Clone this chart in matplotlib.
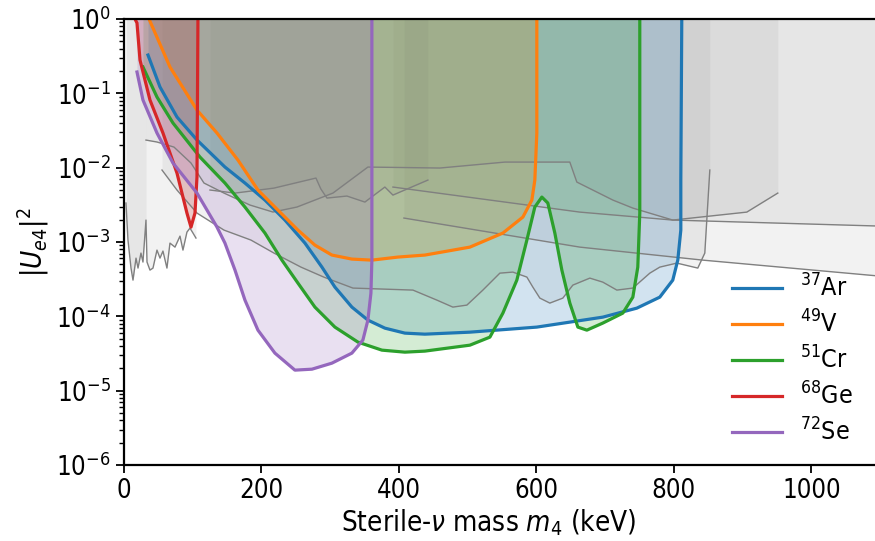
import numpy as np
import matplotlib
matplotlib.use("Agg")
import matplotlib.pyplot as plt

plt.rcParams['font.family'] = ['DejaVu Sans']
plt.rcParams['font.stretch'] = 'condensed'
plt.rcParams['mathtext.fontset'] = 'dejavusans'

# isotope sensitivity contours: mass (keV), log10 |U_e4|^2
ar_m = [34.9, 52.4, 77.1, 106.2, 146.9, 176.0, 205.1, 234.2, 263.3, 288.0, 306.9, 331.6, 354.9,
        379.6, 408.7, 437.8, 503.3, 600.7, 696.7, 746.2, 779.6, 798.5, 805.8, 810.2, 810.2, 811.6]
ar_lu = [-0.485, -0.915, -1.319, -1.628, -1.992, -2.207, -2.436, -2.705, -3.015, -3.338, -3.607, -3.876, -4.051,
         -4.159, -4.226, -4.240, -4.213, -4.145, -4.011, -3.890, -3.742, -3.513, -3.244, -2.840, -2.167, 0.0]

v_m = [36.4, 66.9, 106.2, 135.3, 165.8, 194.9, 224.0, 253.1, 277.8, 302.5, 331.6, 360.7, 398.5,
       437.8, 503.3, 551.3, 580.4, 593.5, 597.8, 600.7, 600.7]
v_lu = [0.0, -0.646, -1.225, -1.534, -1.898, -2.301, -2.571, -2.840, -3.042, -3.176, -3.230, -3.244, -3.203,
        -3.176, -3.069, -2.880, -2.665, -2.436, -2.167, -1.534, 0.0]

cr_m = [27.6, 48.0, 71.3, 110.5, 146.9, 176.0, 205.1, 229.8, 253.1, 277.8, 306.9, 340.4, 375.3,
        408.7, 437.8, 503.3, 532.4, 551.3, 571.6, 586.2, 597.8, 608.0, 616.7, 626.9, 637.1, 648.7,
        660.4, 673.5, 696.7, 725.8, 740.4, 747.6, 750.5, 750.5]
cr_lu = [-0.646, -1.050, -1.400, -1.857, -2.207, -2.530, -2.880, -3.244, -3.553, -3.876, -4.145, -4.347, -4.455,
         -4.482, -4.468, -4.388, -4.280, -3.957, -3.513, -2.974, -2.530, -2.396, -2.476, -2.880, -3.378, -3.822,
         -4.145, -4.186, -4.091, -3.957, -3.742, -3.338, -2.611, 0.0]

ge_m = [16.0, 18.9, 23.3, 37.8, 56.7, 77.1, 91.6, 97.5, 103.3, 106.2, 106.9, 107.6]
ge_lu = [0.0, -0.054, -0.552, -1.090, -1.534, -2.073, -2.611, -2.800, -2.611, -2.127, -1.090, 0.0]

se_m = [18.9, 27.6, 48.0, 71.3, 106.2, 135.3, 146.9, 161.5, 176.0, 194.9, 219.6, 248.7, 273.5,
        302.5, 331.6, 347.6, 354.9, 359.3, 360.7, 360.7]
se_lu = [-0.713, -1.090, -1.534, -1.938, -2.342, -2.799, -3.015, -3.378, -3.782, -4.186, -4.495, -4.724, -4.711,
         -4.630, -4.495, -4.320, -4.051, -3.688, -3.244, 0.0]

isotopes = [r'$^{37}$Ar', r'$^{49}$V', r'$^{51}$Cr', r'$^{68}$Ge', r'$^{72}$Se']

# existing limits (grey)
band_m = [2.9, 5.8, 10.2, 13.1, 17.5, 20.4, 24.7, 27.6, 32.0]
band_lu = [-2.476, -2.974, -3.351, -3.513, -3.217, -3.351, -3.149, -3.270, -2.705]

low_m = [2.9, 5.8, 10.2, 13.1, 17.5, 20.4, 24.7, 27.6, 32.0, 33.5, 37.8, 42.2, 48.0, 52.4, 56.7,
         62.5, 66.9, 74.2, 81.5, 85.8, 91.6, 96.0, 100.4, 104.7]
low_lu = [-2.476, -2.974, -3.351, -3.513, -3.217, -3.351, -3.149, -3.270, -2.705, -3.270, -3.378, -3.351,
          -3.109, -3.217, -3.122, -3.351, -3.015, -3.069, -2.921, -3.109, -2.867, -2.813, -2.880, -2.947]

a_m = [32.0, 48.0, 72.7, 97.5, 116.4, 145.5, 183.3, 216.7, 251.6, 304.0, 354.9, 459.6, 554.2,
       648.7, 658.9, 711.3, 740.4, 798.5, 906.2, 951.3]
a_lu = [-1.629, -1.655, -1.723, -1.938, -2.207, -2.342, -2.503, -2.597, -2.530, -2.342, -1.992, -2.005, -1.925,
        -1.925, -2.194, -2.436, -2.544, -2.705, -2.598, -2.342]

p_m = [125.1, 161.5, 184.7, 218.2, 279.3, 286.5, 295.3, 324.4, 350.5, 379.6, 391.3, 442.2]
p_lu = [-2.301, -2.342, -2.315, -2.275, -2.140, -2.288, -2.409, -2.382, -2.463, -2.261, -2.369, -2.167]

b_m = [391.3, 663.3, 798.5, 1099.6]
b_lu = [-2.261, -2.598, -2.705, -2.786]

c_m = [407.3, 663.3, 842.2, 1099.6]
c_lu = [-2.678, -3.069, -3.244, -3.459]

d_m = [55.3, 77.1, 106.2, 145.5, 184.7, 218.2, 257.5, 290.9, 333.1, 420.4, 455.3, 478.5, 498.9,
       522.2, 546.9, 565.8, 586.2, 594.9, 605.1, 619.6, 638.5, 653.1, 677.8, 696.7, 717.1, 740.4,
       765.1, 779.6, 804.4, 834.9, 845.1, 852.4]
d_lu = [-2.032, -2.301, -2.611, -2.840, -2.974, -3.149, -3.338, -3.473, -3.620, -3.647, -3.782, -3.876, -3.849,
        -3.647, -3.419, -3.405, -3.472, -3.607, -3.755, -3.822, -3.755, -3.580, -3.486, -3.540, -3.647, -3.620,
        -3.419, -3.338, -3.284, -3.351, -3.149, -2.032]


def main():
    fig = plt.figure(figsize=(8.75, 5.41), dpi=100)
    ax = fig.add_axes([0.1417, 0.1405, 0.8640, 0.8244])

    # grey exclusion regions
    ax.fill_between(band_m, 10**np.array(band_lu), 1, color='grey', alpha=0.1, lw=0)
    for m, lu in [(low_m, low_lu), (a_m, a_lu), (p_m, p_lu), (b_m, b_lu), (c_m, c_lu), (d_m, d_lu)]:
        u = 10**np.array(lu)
        ax.fill_between(m, u, 1, color='grey', alpha=0.1, lw=0)
        ax.plot(m, u, color='grey', lw=1)

    curves = [(ar_m, ar_lu), (v_m, v_lu), (cr_m, cr_lu), (ge_m, ge_lu), (se_m, se_lu)]
    colors = ['tab:blue', 'tab:orange', 'tab:green', 'tab:red', 'tab:purple']
    for (m, lu), c in zip(curves, colors):
        ax.fill_between(m, 10**np.array(lu), 1, color=c, alpha=0.2, lw=0)
    for (m, lu), c, lab in zip(curves, colors, isotopes):
        ax.plot(m, 10**np.array(lu), color=c, lw=2.3, label=lab)

    ax.set_yscale('log')
    ax.set_xlim(0, 1100)
    ax.set_ylim(1e-6, 1)
    ax.set_xticks([0, 200, 400, 600, 800, 1000])
    ax.set_xlabel(r'Sterile-$\nu$ mass $m_4$ (keV)', fontsize=20)
    ax.set_ylabel(r'$|U_{e4}|^2$', fontsize=20)
    ax.xaxis.set_label_coords(0.483, -0.095)
    ax.tick_params(labelsize=18.5, width=1.3, length=6)
    ax.tick_params(which='minor', width=1, length=3.5)
    for s in ax.spines.values():
        s.set_linewidth(1.6)

    ax.legend(loc='upper left', bbox_to_anchor=(0.811, 0.535), bbox_transform=fig.transFigure,
              frameon=False, fontsize=18, handlelength=2.0, handletextpad=0.7, labelspacing=0.36)

    fig.savefig('out.png', dpi=100)


main()
